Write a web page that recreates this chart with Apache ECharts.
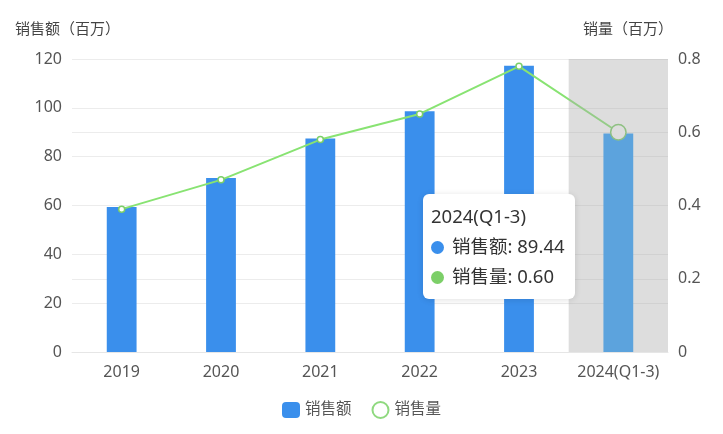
<!DOCTYPE html>
<html>
<head>
<meta charset="utf-8">
<script src="https://cdn.jsdelivr.net/npm/echarts@6/dist/echarts.min.js"></script>
<style>
  html, body { margin: 0; padding: 0; background: #fff; }
  #chart { width: 723px; height: 434px; }
</style>
</head>
<body>
<div id="chart"></div>
<script>
const years = ['2019', '2020', '2021', '2022', '2023', '2024(Q1-3)']
const salesAmount = [59.4, 71.3, 87.4, 98.6, 117.2, 89.44]
const salesVolume = [0.39, 0.47, 0.58, 0.65, 0.78, 0.60]
const leftTicks = { min: 0, max: 120, interval: 20 }
const rightTicks = { min: 0, max: 0.8, interval: 0.2 }

const FONT = "'Noto Sans', 'Noto Sans CJK SC', sans-serif"
const BLUE = '#3a8fec'
// seen through the grey axis shadow it reads as a softer blue
const BLUE_UNDER_SHADOW = '#2591fd'
const GREEN = '#7ccf68'
const lastIdx = years.length - 1

const chart = echarts.init(document.getElementById('chart'), null, { renderer: 'canvas' })

chart.setOption({
  animation: false,
  textStyle: { fontFamily: FONT },
  grid: { left: 72, right: 55, top: 59, bottom: 82 },
  tooltip: {
    trigger: 'axis',
    triggerOn: 'none',
    alwaysShowContent: true,
    axisPointer: {
      type: 'shadow',
      shadowStyle: { color: 'rgba(170,170,170,0.4)' },
    },
    position: () => [423, 194],
    backgroundColor: '#fff',
    borderWidth: 0,
    padding: [7, 10, 8, 8],
    extraCssText: 'border-radius:6px; box-shadow:0 1px 6px rgba(0,0,0,0.12);',
    formatter: params => {
      const dot = c => `<span style="display:inline-block;width:13px;height:13px;border-radius:50%;background:${c};margin-right:8px;vertical-align:-1px;"></span>`
      const amount = params.find(p => p.seriesName === '销售额')
      const volume = params.find(p => p.seriesName === '销售量')
      return `<div style="font-family:${FONT};font-size:18.5px;line-height:30px;color:#333;">`
        + `<div>${params[0].axisValue}</div>`
        + `<div>${dot(BLUE)}销售额: ${Number(amount.value).toFixed(2)}</div>`
        + `<div>${dot(GREEN)}销售量: ${Number(volume.value).toFixed(2)}</div>`
        + `</div>`
    },
  },
  legend: {
    top: 396,
    left: 'center',
    itemWidth: 18,
    itemHeight: 16,
    itemGap: 20,
    textStyle: { fontSize: 15.5, color: '#555', fontFamily: FONT },
    data: [
      { name: '销售额', icon: 'roundRect' },
      { name: '销售量', icon: 'emptyCircle', itemStyle: { color: '#8fd97f', borderColor: '#8fd97f', borderWidth: 2 } },
    ],
  },
  xAxis: {
    type: 'category',
    data: years,
    axisLine: { lineStyle: { color: '#e6e6e6' } },
    axisTick: { show: false },
    axisLabel: { color: '#555', fontSize: 16, margin: 12, interval: 0, fontFamily: FONT },
  },
  yAxis: [
    {
      type: 'value',
      name: '销售额（百万）',
      nameGap: 22,
      nameTextStyle: { color: '#444', fontSize: 15, padding: [0, 9, 0, 0], fontFamily: FONT },
      min: leftTicks.min,
      max: leftTicks.max,
      interval: leftTicks.interval,
      axisLabel: { color: '#555', fontSize: 16, margin: 10, fontFamily: FONT },
      splitLine: { lineStyle: { color: '#ececec' } },
    },
    {
      type: 'value',
      name: '销量（百万）',
      nameGap: 22,
      nameTextStyle: { color: '#444', fontSize: 15, padding: [0, 80, 0, 0], fontFamily: FONT },
      min: rightTicks.min,
      max: rightTicks.max,
      interval: rightTicks.interval,
      axisLabel: { color: '#555', fontSize: 16, margin: 10, fontFamily: FONT },
      splitLine: { lineStyle: { color: '#ececec' } },
    },
  ],
  series: [
    {
      name: '销售额',
      type: 'bar',
      yAxisIndex: 0,
      barWidth: '30%',
      itemStyle: { color: BLUE },
      data: salesAmount.map((v, i) => i === lastIdx ? { value: v, itemStyle: { color: BLUE_UNDER_SHADOW } } : v),
    },
    {
      name: '销售量',
      type: 'line',
      yAxisIndex: 1,
      symbol: 'circle',
      symbolSize: 6,
      lineStyle: { color: GREEN, width: 2 },
      itemStyle: { color: '#fff', borderColor: GREEN, borderWidth: 1.5 },
      data: salesVolume.map((v, i) => i === lastIdx ? { value: v, symbolSize: 14 } : v),
    },
  ],
})

chart.dispatchAction({ type: 'showTip', seriesIndex: 0, dataIndex: lastIdx })
</script>
</body>
</html>
